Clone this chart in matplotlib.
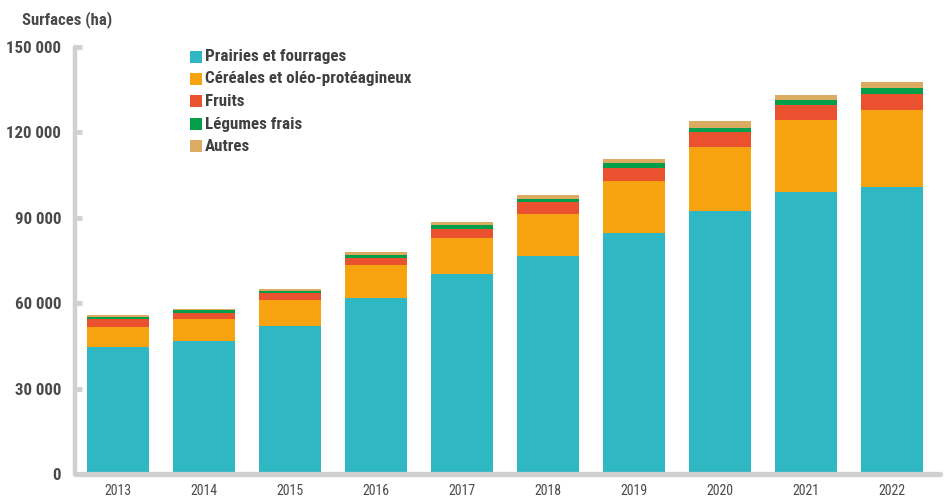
import matplotlib
matplotlib.use("Agg")
import matplotlib.pyplot as plt
import numpy as np
from matplotlib.patches import Rectangle

years = ["2013", "2014", "2015", "2016", "2017", "2018", "2019", "2020", "2021", "2022"]
prairies = [44700, 46800, 52100, 61900, 70400, 76700, 84700, 92500, 99200, 100900]
cereales = [7000, 7700, 9000, 11600, 12600, 14800, 18300, 22200, 25300, 27100]
fruits = [2600, 2100, 2350, 2500, 3200, 4200, 4600, 5300, 5300, 5600]
legumes = [700, 1050, 900, 1050, 1200, 1050, 1750, 1400, 1750, 2100]
autres = [700, 350, 600, 1050, 1300, 1400, 1400, 2500, 1750, 2100]

labels = ["Prairies et fourrages", "Céréales et oléo-protéagineux", "Fruits",
          "Légumes frais", "Autres"]
colors = ["#2fb8c3", "#f6a30f", "#e9512f", "#029e4a", "#dcab62"]
yticks = [0, 30000, 60000, 90000, 120000, 150000]
ytick_labels = ["0", "30 000", "60 000", "90 000", "120 000", "150 000"]

BOLD = ["Roboto Condensed", "DejaVu Sans"]
REG = ["Roboto Condensed", "DejaVu Sans"]
TXT = "#4a4a4a"

W, H = 944, 504
fig = plt.figure(figsize=(W / 100, H / 100), dpi=100)
renderer = fig.canvas.get_renderer()


def fit(text, target_px):
    w = text.get_window_extent(renderer).width
    text.set_fontsize(text.get_fontsize() * target_px / w)


left_px, right_px, top_px, bottom_px = 75, 940, 47, 474
ax = fig.add_axes([left_px / W, 1 - bottom_px / H, (right_px - left_px) / W,
                   (bottom_px - top_px) / H])

x = np.arange(len(years))
series = [prairies, cereales, fruits, legumes, autres]
bottom = np.zeros(len(years))
for vals, lab, col in zip(series, labels, colors):
    ax.bar(x, vals, 0.72, bottom=bottom, color=col, label=lab, zorder=2)
    bottom += np.array(vals)

ax.set_xlim(-0.496, 9.558)
ax.set_ylim(0, 150000)
ax.set_yticks(yticks)
ax.set_yticklabels(ytick_labels, family=BOLD, fontweight="bold", color=TXT, fontsize=12)
ax.set_xticks(x)
ax.set_xticklabels(years, family=REG, color=TXT, fontsize=12)
ax.tick_params(axis="y", direction="in", length=5, width=3.5, color="#d0d0d0", pad=10)
ax.tick_params(axis="x", length=0, pad=7)

for s in ["top", "right"]:
    ax.spines[s].set_visible(False)
for s in ["left", "bottom"]:
    ax.spines[s].set_color("#d0d0d0")
    ax.spines[s].set_capstyle("round")
ax.spines["left"].set_linewidth(3.2)
ax.spines["bottom"].set_linewidth(3.8)
ax.spines["bottom"].set_zorder(3)

# fit tick label sizes
fig.canvas.draw()
ylab = ax.get_yticklabels()
ref = ylab[-1]
w = ref.get_window_extent(renderer).width
fs = ref.get_fontsize() * 55 / w
for t in ylab:
    t.set_fontsize(fs)
xlab = ax.get_xticklabels()
w = xlab[0].get_window_extent(renderer).width
fs = xlab[0].get_fontsize() * 27 / w
for t in xlab:
    t.set_fontsize(fs)

title = fig.text(22 / W, 1 - 20 / H, "Surfaces (ha)", fontsize=12, fontweight="bold",
                 family=BOLD, color=TXT, va="center", ha="left")
fit(title, 90)

# legend
rows = [57, 79, 101, 124, 146]
ltexts = []
for lab, col, yc in zip(labels, colors, rows):
    fig.add_artist(Rectangle((190 / W, 1 - (yc + 6) / H), 12 / W, 12 / H,
                             transform=fig.transFigure, color=col, lw=0))
    t = fig.text(205 / W, 1 - yc / H, lab, fontsize=12, fontweight="bold", family=BOLD,
                 color="#404040", va="center", ha="left")
    ltexts.append(t)
w = ltexts[0].get_window_extent(renderer).width
fs = ltexts[0].get_fontsize() * 142 / w
for t in ltexts:
    t.set_fontsize(fs)

fig.savefig("out.png", dpi=100)
